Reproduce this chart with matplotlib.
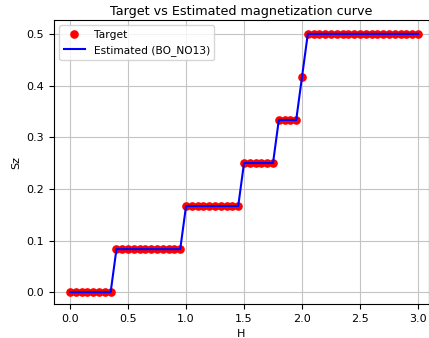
import matplotlib
matplotlib.use('Agg')
import matplotlib.pyplot as plt

# Field values H and target / estimated magnetization Sz
H = [0.00, 0.05, 0.10, 0.15, 0.20, 0.25, 0.30, 0.35, 0.40, 0.45,
     0.50, 0.55, 0.60, 0.65, 0.70, 0.75, 0.80, 0.85, 0.90, 0.95,
     1.00, 1.05, 1.10, 1.15, 1.20, 1.25, 1.30, 1.35, 1.40, 1.45,
     1.50, 1.55, 1.60, 1.65, 1.70, 1.75, 1.80, 1.85, 1.90, 1.95,
     2.00, 2.05, 2.10, 2.15, 2.20, 2.25, 2.30, 2.35, 2.40, 2.45,
     2.50, 2.55, 2.60, 2.65, 2.70, 2.75, 2.80, 2.85, 2.90, 2.95, 3.00]

sz_target = ([0.0] * 8 + [0.0833] * 12 + [0.1667] * 10 + [0.25] * 6
             + [0.3333] * 4 + [0.4167] + [0.5] * 20)
sz_estimated = list(sz_target)

fig = plt.figure(figsize=(4.29, 3.38), dpi=100)
ax = fig.add_axes([0.126, 0.100, 0.874, 0.841])

ax.plot(H, sz_target, 'o', color='red', markersize=5.2, label='Target')
ax.plot(H, sz_estimated, '-', color='blue', linewidth=1.5, label='Estimated (BO_NO13)')

ax.set_title('Target vs Estimated magnetization curve', fontsize=9.2, pad=3.5)
ax.set_xlabel('H', fontsize=8)
ax.set_ylabel('Sz', fontsize=8)
ax.tick_params(labelsize=8)
ax.set_xticks([0.0, 0.5, 1.0, 1.5, 2.0, 2.5, 3.0])
ax.set_yticks([0.0, 0.1, 0.2, 0.3, 0.4, 0.5])
ax.set_xlim(-0.138, 3.095)
ax.set_ylim(-0.0233, 0.527)
ax.grid(True, color='#c4c4c4', linewidth=0.8)
ax.legend(loc='upper left', fontsize=7.7)

plt.savefig('out.png', dpi=100)
